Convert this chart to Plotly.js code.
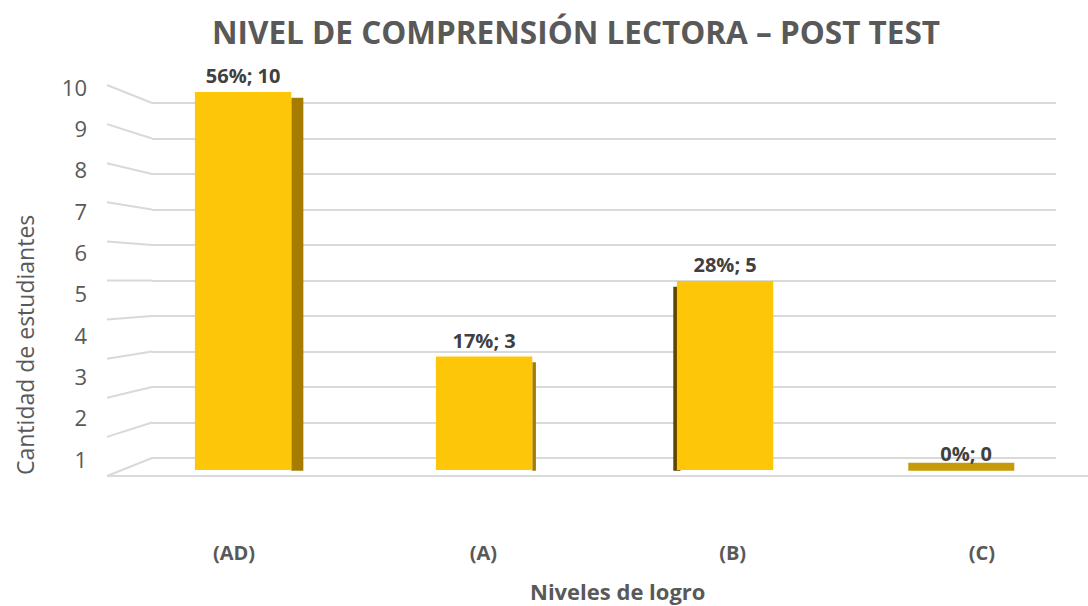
<!DOCTYPE html>
<html>
<head>
<meta charset="utf-8">
<script src="https://cdn.plot.ly/plotly-3.0.1.min.js"></script>
<style>html,body{margin:0;padding:0;background:#fff;}#chart{width:1088px;height:606px;}</style>
</head>
<body>
<div id="chart"></div>
<script>
// ---- data ----
const categories = ['(AD)', '(A)', '(B)', '(C)'];
const counts = [10, 3, 5, 0];
const percents = [56, 17, 28, 0];
const tickLabels = [1, 2, 3, 4, 5, 6, 7, 8, 9, 10];
const gridValues = [0, 1, 2, 3, 4, 5, 6, 7, 8, 9, 10];

// ---- styles ----
const FONT = 'Open Sans, Noto Sans, sans-serif';
const GRID = '#D9D9D9';
const frontColor = '#FEC608';
const sideColors = ['#A67C00', '#A67C00', '#5E4600', '#C79A08'];
const sideOffsets = [0.2, 0.2, -0.215, -0.24];
const sideWidths = [0.05, 0.015, 0.03, 0.44];
const sideBase = -0.02;

// depth faces (drawn behind the front faces)
const sideTrace = {
  type: 'bar', x: categories,
  y: counts.map(v => Math.max(v - 0.15, 0.19) - sideBase),
  base: sideBase,
  offset: sideOffsets, width: sideWidths,
  marker: {color: sideColors, line: {width: 0}},
  hoverinfo: 'skip', showlegend: false
};

const frontTrace = {
  type: 'bar', x: categories, y: counts,
  customdata: percents,
  width: 0.4,
  marker: {color: frontColor, line: {width: 0}},
  texttemplate: '%{customdata}%; %{y}',
  textposition: 'outside',
  cliponaxis: false,
  textfont: {family: FONT, size: 20, color: '#404040', weight: 'bold'},
  showlegend: false
};

// helper traces so the overlay axes are drawn
const gridHelper = {type: 'scatter', x: [categories[0]], y: [gridValues[0]], xaxis: 'x', yaxis: 'y2',
  mode: 'markers', marker: {opacity: 0}, hoverinfo: 'skip', showlegend: false};
const labelHelper = {type: 'scatter', x: [0], y: [tickLabels[0]], xaxis: 'x2', yaxis: 'y3',
  mode: 'markers', marker: {opacity: 0}, hoverinfo: 'skip', showlegend: false};

// left wall slanted lines (front edge -> back wall), paper coords
const L = 152, R = 1056, T = 80, B = 480;
const px = x => (x - L) / (R - L);
const py = y => (B - y) / (B - T);
const shapes = gridValues.map(k => ({
  type: 'line', xref: 'paper', yref: 'paper',
  x0: px(107), y0: py(476 - 39.1 * k), x1: px(152), y1: py(458 - 35.5 * k),
  line: {color: GRID, width: 2}, layer: 'below'
}));
shapes.push({type: 'line', xref: 'paper', yref: 'paper', x0: px(107), x1: px(1088), y0: py(476), y1: py(476),
  line: {color: GRID, width: 2}, layer: 'below'});

const layout = {
  width: 1088, height: 606,
  margin: {l: L, r: 1088 - R, t: T, b: 606 - B},
  paper_bgcolor: '#fff', plot_bgcolor: '#fff',
  barmode: 'overlay',
  font: {family: FONT, color: '#595959'},
  title: {text: 'NIVEL DE COMPRENSIÓN LECTORA – POST TEST',
    font: {family: FONT, size: 31.5, color: '#595959', weight: 'bold'},
    x: (576) / 1088, xanchor: 'center', y: 1 - 33 / 606, yanchor: 'middle'},
  xaxis: {type: 'category', range: [-0.378, 3.373], showgrid: false, zeroline: false,
    showticklabels: false, showline: false, ticks: ''},
  xaxis2: {overlaying: 'x', anchor: 'y', side: 'bottom', type: 'linear',
    range: [-0.329, 3.297], tickvals: [0, 1, 2, 3], ticktext: categories,
    showgrid: false, zeroline: false, showline: false, ticks: '',
    ticklabelstandoff: 59,
    tickfont: {family: FONT, size: 20, color: '#595959', weight: 'bold'}},
  yaxis: {range: [-0.2646, 10.317], showgrid: false, zeroline: false, showticklabels: false,
    showline: false, ticks: ''},
  yaxis2: {overlaying: 'y', anchor: 'x', range: [-0.6197, 10.648], tickvals: gridValues,
    showgrid: true, gridcolor: GRID, gridwidth: 2, zeroline: false, showticklabels: false,
    showline: false, ticks: ''},
  yaxis3: {overlaying: 'y', anchor: 'x', side: 'left', range: [0.516, 10.194], tickvals: tickLabels,
    showgrid: false, zeroline: false, showline: false, ticks: '',
    ticklabelstandoff: 64,
    tickfont: {family: FONT, size: 22, color: '#595959'}},
  annotations: [
    {text: 'Cantidad de estudiantes', xref: 'paper', yref: 'paper',
      x: px(25), y: py(345), xanchor: 'center', yanchor: 'middle', textangle: -90, showarrow: false,
      font: {family: FONT, size: 23, color: '#595959'}},
    {text: 'Niveles de logro', xref: 'paper', yref: 'paper',
      x: px(617), y: py(591), xanchor: 'center', yanchor: 'middle', showarrow: false,
      font: {family: FONT, size: 22, color: '#595959', weight: 'bold'}}
  ],
  shapes: shapes
};

Plotly.newPlot('chart', [gridHelper, labelHelper, sideTrace, frontTrace], layout, {displayModeBar: false, staticPlot: true});
</script>
</body>
</html>
